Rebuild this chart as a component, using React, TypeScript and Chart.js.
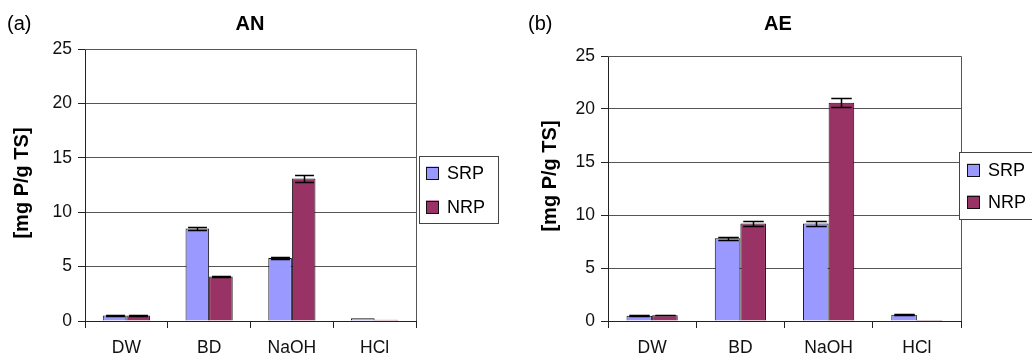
import React, { useEffect, useRef } from 'react';
import { Chart, registerables } from 'chart.js';

Chart.register(...registerables);

// ---- data ----
const categories = ['DW', 'BD', 'NaOH', 'HCl'];
const seriesNames = ['SRP', 'NRP'];
const seriesColors = ['#9999FF', '#993366'];
const yTickValues = [0, 5, 10, 15, 20, 25];
const yAxisTitle = '[mg P/g TS]';

const anSRP = [0.5, 8.5, 5.8, 0.25];
const anNRP = [0.5, 4.1, 13.1, 0.12];
const anSRPErr = [0.03, 0.15, 0.1, 0];
const anNRPErr = [0.03, 0.08, 0.3, 0];

const aeSRP = [0.5, 7.8, 9.2, 0.6];
const aeNRP = [0.55, 9.2, 20.6, 0.1];
const aeSRPErr = [0.03, 0.15, 0.2, 0.03];
const aeNRPErr = [0.03, 0.2, 0.4, 0];

const FONT = "'Liberation Sans', Arial, Helvetica, sans-serif";

const errorBarsPlugin = {
  id: 'errorBars',
  afterDatasetsDraw(chart: any, _args: any, opts: any) {
    const ctx = chart.ctx;
    const y = chart.scales.y;
    chart.data.datasets.forEach((ds: any, i: number) => {
      const meta = chart.getDatasetMeta(i);
      const errs = (opts.errors || [])[i] || [];
      meta.data.forEach((bar: any, j: number) => {
        const e = errs[j];
        if (!e) return;
        const v = ds.data[j];
        const top = Math.round(y.getPixelForValue(v + e)) + 0.5;
        const bot = Math.round(y.getPixelForValue(v - e)) + 0.5;
        const half = bar.width * 0.4;
        const x = Math.round(bar.x) + 0.5;
        ctx.save();
        ctx.strokeStyle = '#000';
        ctx.lineWidth = 1.5;
        ctx.beginPath();
        ctx.moveTo(x, top);
        ctx.lineTo(x, bot);
        ctx.moveTo(x - half, top);
        ctx.lineTo(x + half, top);
        ctx.moveTo(x - half, bot);
        ctx.lineTo(x + half, bot);
        ctx.stroke();
        ctx.restore();
      });
    });
  },
};

const framePlugin = {
  id: 'frame',
  beforeDatasetsDraw(chart: any) {
    const { ctx, chartArea } = chart;
    ctx.save();
    ctx.strokeStyle = '#555';
    ctx.lineWidth = 1;
    ctx.beginPath();
    const r = Math.round(chartArea.right) + 0.5;
    const t = Math.round(chartArea.top) + 0.5;
    ctx.moveTo(chartArea.left, t);
    ctx.lineTo(r, t);
    ctx.lineTo(r, chartArea.bottom);
    ctx.stroke();
    ctx.restore();
  },
};

const boxLegendPlugin = {
  id: 'boxLegend',
  afterDraw(chart: any, _args: any, opts: any) {
    const ctx = chart.ctx;
    const { x, y, w, h, sq, sqX, textX, rows } = opts;
    ctx.save();
    ctx.fillStyle = '#fff';
    ctx.fillRect(x, y, w, h);
    ctx.strokeStyle = '#444';
    ctx.lineWidth = 1;
    ctx.strokeRect(x + 0.5, y + 0.5, w, h);
    ctx.font = `18px ${FONT}`;
    ctx.textBaseline = 'middle';
    chart.data.datasets.forEach((ds: any, i: number) => {
      const cy = rows[i];
      ctx.fillStyle = ds.backgroundColor;
      ctx.fillRect(sqX, cy - sq / 2, sq, sq);
      ctx.strokeStyle = '#111';
      ctx.strokeRect(sqX + 0.5, Math.round(cy - sq / 2) + 0.5, sq - 1, sq - 1);
      ctx.fillStyle = '#000';
      ctx.fillText(ds.label, textX, cy + 1);
    });
    ctx.restore();
  },
};

const textsPlugin = {
  id: 'texts',
  afterDraw(chart: any, _args: any, opts: any) {
    const ctx = chart.ctx;
    ctx.save();
    ctx.fillStyle = '#000';
    ctx.textBaseline = 'middle';
    // panel letter
    ctx.font = `20px ${FONT}`;
    ctx.textAlign = 'left';
    ctx.fillText(opts.label, opts.labelX, opts.labelY);
    // title
    ctx.font = `bold 20px ${FONT}`;
    ctx.textAlign = 'center';
    ctx.fillText(opts.title, opts.titleX, opts.titleY);
    // y-axis title
    ctx.translate(opts.yTitleX, opts.yTitleY);
    ctx.rotate(-Math.PI / 2);
    ctx.fillText(opts.yTitle, 0, 0);
    ctx.restore();
  },
};

type PanelProps = {
  left: number;
  width: number;
  srp: number[];
  nrp: number[];
  srpErr: number[];
  nrpErr: number[];
  axisWidth: number;
  padRight: number;
  padTop: number;
  catPct: number;
  legend: any;
  texts: any;
};

function Panel(p: PanelProps) {
  const ref = useRef<HTMLCanvasElement>(null);
  useEffect(() => {
    if (!ref.current) return;
    const chart = new Chart(ref.current, {
      type: 'bar',
      data: {
        labels: categories,
        datasets: [
          {
            label: seriesNames[0],
            data: p.srp,
            backgroundColor: seriesColors[0],
            borderColor: '#111',
            borderWidth: 1,
            categoryPercentage: p.catPct,
            barPercentage: 1,
          },
          {
            label: seriesNames[1],
            data: p.nrp,
            backgroundColor: seriesColors[1],
            borderColor: '#111',
            borderWidth: 1,
            categoryPercentage: p.catPct,
            barPercentage: 1,
          },
        ],
      },
      options: {
        responsive: false,
        animation: false,
        layout: { padding: { left: 0, top: p.padTop, right: p.padRight, bottom: 0 } },
        plugins: {
          legend: { display: false },
          tooltip: { enabled: false },
          title: { display: false },
          errorBars: { errors: [p.srpErr, p.nrpErr] },
          boxLegend: p.legend,
          texts: p.texts,
        } as any,
        scales: {
          x: {
            grid: {
              drawOnChartArea: false,
              tickColor: '#222',
              tickLength: 7,
              offset: true,
            },
            border: { color: '#222', width: 1 },
            ticks: {
              color: '#111',
              font: { family: FONT, size: 17.5 },
              padding: 10,
              maxRotation: 0,
            },
            afterFit: (s: any) => {
              s.height = 33;
            },
          },
          y: {
            min: 0,
            max: 25,
            afterBuildTicks: (s: any) => {
              s.ticks = yTickValues.map((v) => ({ value: v }));
            },
            grid: { color: '#555', tickColor: '#222', tickLength: 7, lineWidth: 1 },
            border: { color: '#222', width: 1 },
            ticks: {
              color: '#111',
              font: { family: FONT, size: 17.5 },
              padding: 6,
            },
            title: { display: false },
            afterFit: (s: any) => {
              s.width = p.axisWidth;
            },
          },
        },
      },
      plugins: [framePlugin, errorBarsPlugin, boxLegendPlugin, textsPlugin],
    });
    return () => chart.destroy();
  }, []);
  return (
    <canvas
      ref={ref}
      width={p.width}
      height={354}
      style={{ position: 'absolute', left: p.left, top: 0, width: p.width, height: 354 }}
    />
  );
}

export default function App() {
  return (
    <div
      style={{
        position: 'fixed',
        left: 0,
        top: 0,
        width: 1032,
        height: 354,
        background: '#fff',
        overflow: 'hidden',
      }}
    >
      <Panel
        left={0}
        width={516}
        srp={anSRP}
        nrp={anNRP}
        srpErr={anSRPErr}
        nrpErr={anNRPErr}
        axisWidth={85}
        padRight={100}
        padTop={49}
        catPct={0.57}
        legend={{ x: 419, y: 156, w: 79, h: 67, sq: 13, sqX: 426, textX: 447, rows: [173, 207] }}
        texts={{
          label: '(a)', labelX: 7, labelY: 24,
          title: 'AN', titleX: 250, titleY: 24,
          yTitle: yAxisTitle, yTitleX: 22, yTitleY: 183,
        }}
      />
      <Panel
        left={516}
        width={516}
        srp={aeSRP}
        nrp={aeNRP}
        srpErr={aeSRPErr}
        nrpErr={aeNRPErr}
        axisWidth={92}
        padRight={71}
        padTop={56}
        catPct={0.58}
        legend={{ x: 443, y: 152, w: 90, h: 67, sq: 13, sqX: 451, textX: 472, rows: [170, 202] }}
        texts={{
          label: '(b)', labelX: 12, labelY: 24,
          title: 'AE', titleX: 262, titleY: 24,
          yTitle: yAxisTitle, yTitleX: 34, yTitleY: 176,
        }}
      />
    </div>
  );
}
